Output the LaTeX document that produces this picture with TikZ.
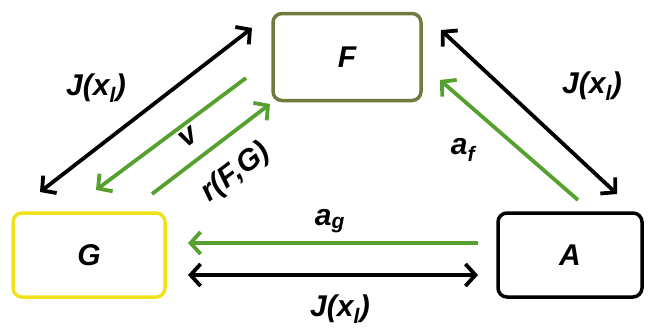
\documentclass[tikz,border=0pt]{standalone}
\usepackage{fontspec}
\setmainfont{Liberation Sans}
\usetikzlibrary{arrows.meta}
\definecolor{arrgreen}{HTML}{55A02E}
\definecolor{fcol}{HTML}{6E7B3C}
\definecolor{gcol}{HTML}{F2E21C}
\tikzset{
  box/.style={draw, line width=3.5pt, rounded corners=9pt, inner sep=0pt,
    font=\fontsize{30}{32}\selectfont\bfseries\itshape, fill=white},
  lbl/.style={font=\fontsize{30}{32}\selectfont\bfseries\itshape, inner sep=0pt},
  blk/.style={line width=3.8pt, black},
  grn/.style={line width=3.8pt, arrgreen},
  barb/.tip={Straight Barb[length=10pt,width=22pt]},
}
\begin{document}
\begin{tikzpicture}[x=1pt,y=-1pt]
\useasboundingbox (0,0) rectangle (655,330);
\node[box, draw=fcol, minimum width=148pt, minimum height=87pt] (F) at (347,57) {F};
\node[box, draw=gcol, minimum width=152pt, minimum height=84pt] (G) at (89,255) {G};
\node[box, draw=black, minimum width=144pt, minimum height=84pt] (A) at (570,255) {A};
% endpoints
\coordinate (jl1) at (40,192); \coordinate (jl2) at (252,28);
\coordinate (v1) at (246,78); \coordinate (v2) at (96,190);
\coordinate (r1) at (152,194); \coordinate (r2) at (270,104);
\coordinate (jr1) at (441,30); \coordinate (jr2) at (617,194);
\coordinate (af1) at (578,200); \coordinate (af2) at (440,80);
\coordinate (ag1) at (478,243); \coordinate (ag2) at (188,243);
\coordinate (jb1) at (188,275); \coordinate (jb2) at (478,275);
\draw[blk, barb-barb] (jl1) -- (jl2);
\draw[grn, -barb] (v1) -- (v2);
\draw[grn, -barb] (r1) -- (r2);
\draw[blk, barb-barb] (jr1) -- (jr2);
\draw[grn, -barb] (af1) -- (af2);
\draw[grn, -barb] (ag1) -- (ag2);
\draw[blk, barb-barb] (jb1) -- (jb2);
% labels
\node[lbl] (lJl) at (96,88) {J(x\textsubscript{l})};
\node[lbl] (lJr) at (592,86) {J(x\textsubscript{l})};
\node[lbl] (lJb) at (340,309) {J(x\textsubscript{l})};
\node[lbl, rotate=37] (lv) at (188,137) {v};
\node[lbl, rotate=37] (lr) at (236,173) {r(F,G)};
\node[lbl] (laf) at (463,150) {a\textsubscript{f}};
\node[lbl] (lag) at (330,221) {a\textsubscript{g}};
\end{tikzpicture}
\end{document}
